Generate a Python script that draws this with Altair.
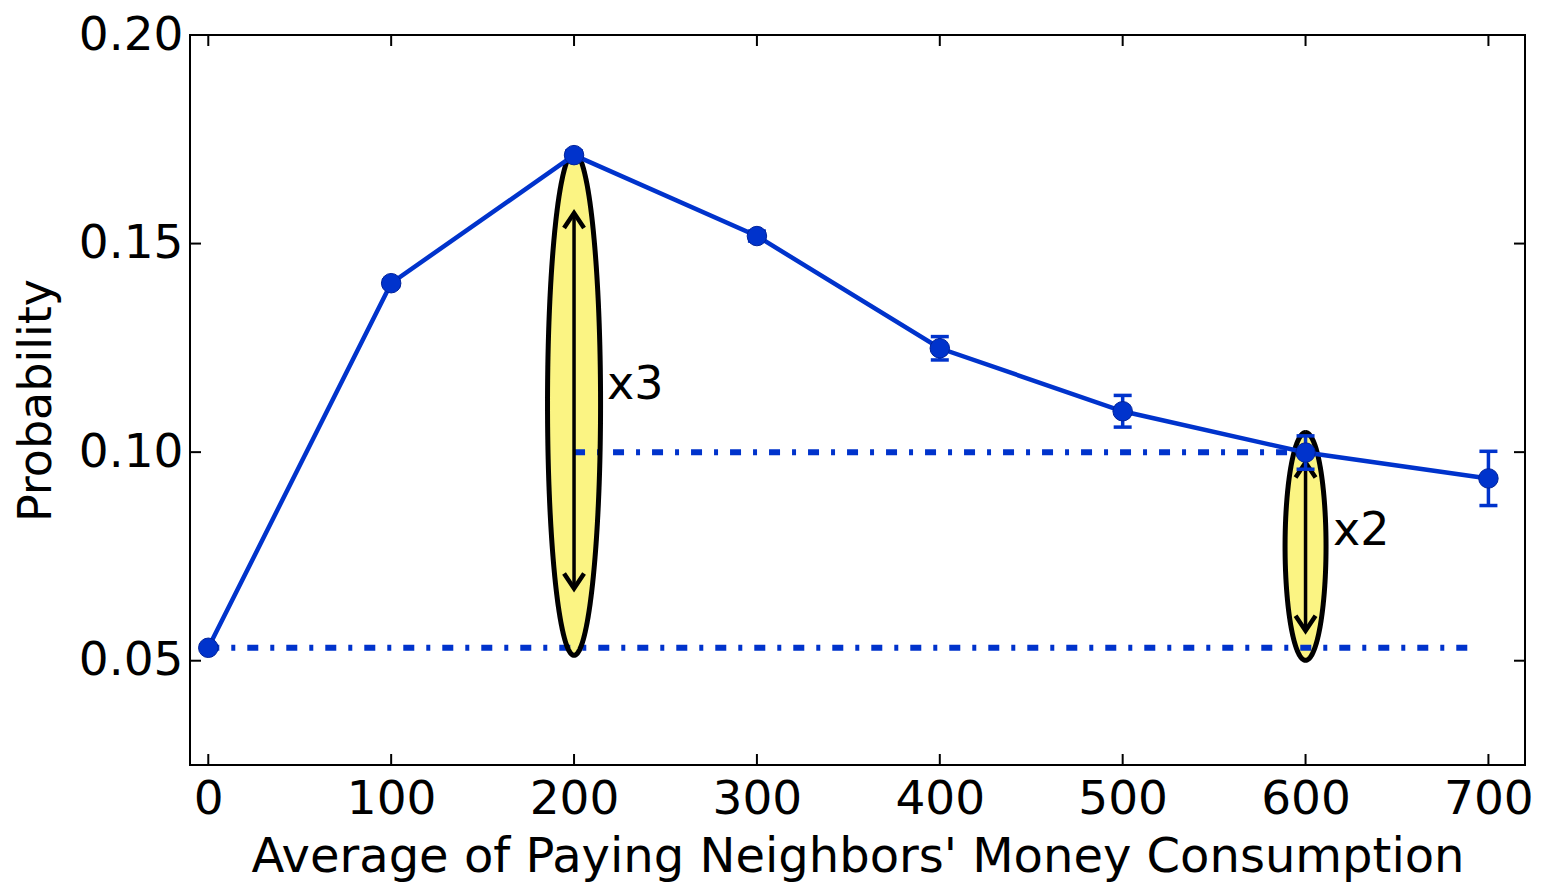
import altair as alt
import numpy as np
import pandas as pd

# ---- data ----
consumption = [0, 100, 200, 300, 400, 500, 600, 700]
probability = [0.0531, 0.1405, 0.1712, 0.1518, 0.1249, 0.1098, 0.0999, 0.0937]
error = [0.0005, 0.0008, 0.0010, 0.0012, 0.0028, 0.0038, 0.0040, 0.0065]

x_ticks = [0, 100, 200, 300, 400, 500, 600, 700]
y_ticks = [0.05, 0.10, 0.15, 0.20]

# reference (dash-dot) lines
ref_id = ["base", "double"]
ref_x1 = [0, 200]
ref_x2 = [695, 600]
ref_y = [0.0531, 0.10]

# highlighted ellipses (centre and half-extent in data units)
ell_id = ["e3", "e2"]
ell_cx = [200, 600]
ell_cy = [0.1116, 0.0774]
ell_rx = [14.5, 11.2]
ell_ry = [0.0603, 0.0273]

# double-headed arrows
arr_x = [200, 600]
arr_top = [0.1573, 0.0975]
arr_bot = [0.0673, 0.0572]

# labels
lab_text = ["x3", "x2"]
lab_x = [218, 615]
lab_y = [0.116, 0.0812]

W, H = 1335, 730
BLUE = "#0033cc"
FONT = "DejaVu Sans"

main = pd.DataFrame({"x": consumption, "p": probability, "e": error})
main["lo"] = main["p"] - main["e"]
main["hi"] = main["p"] + main["e"]

refs = pd.DataFrame({"id": ref_id, "x1": ref_x1, "x2": ref_x2, "y": ref_y})

# ellipse geometry from the centre/extent parameters above
fill_rows, edge_rows = [], []
for i in range(len(ell_id)):
    for k, tt in enumerate(np.linspace(0, np.pi, 241)):
        fill_rows.append({
            "id": ell_id[i],
            "x": ell_cx[i] - ell_rx[i] * np.cos(tt),
            "yt": ell_cy[i] + ell_ry[i] * np.sin(tt),
            "yb": ell_cy[i] - ell_ry[i] * np.sin(tt),
        })
    for k, tt in enumerate(np.linspace(0, 2 * np.pi, 481)):
        edge_rows.append({
            "id": ell_id[i], "k": k,
            "y": ell_cy[i] + ell_ry[i] * np.cos(tt),
            "x": ell_cx[i] + ell_rx[i] * np.sin(tt),
        })
ell_fill = pd.DataFrame(fill_rows)
ell_edge = pd.DataFrame(edge_rows)

arrows = pd.DataFrame({"x": arr_x, "top": arr_top, "bot": arr_bot})
labels = pd.DataFrame({"text": lab_text, "x": lab_x, "y": lab_y})
xt = pd.DataFrame({"v": x_ticks})
yt = pd.DataFrame({"v": y_ticks})

xscale = alt.Scale(domain=[-10, 720], nice=False, zero=False)
yscale = alt.Scale(domain=[0.025, 0.2], nice=False, zero=False)

xaxis = alt.Axis(values=x_ticks, title="Average of Paying Neighbors' Money Consumption",
                 ticks=False, domain=False, grid=False, labelPadding=11,
                 titlePadding=11, format="d")
yaxis = alt.Axis(values=y_ticks, title="Probability", ticks=False, domain=False,
                 grid=False, labelPadding=7, titlePadding=18, titleFontSize=46,
                 format=".2f")


def X(f):
    return alt.X(f, type="quantitative", scale=xscale, axis=xaxis)


def Y(f):
    return alt.Y(f, type="quantitative", scale=yscale, axis=yaxis)


ellipse_fill = alt.Chart(ell_fill).mark_area(color="#fbf483", opacity=1).encode(
    x=X("x"), y=Y("yt"), y2="yb", detail="id:N")
ellipse_edge = alt.Chart(ell_edge).mark_line(color="black", strokeWidth=5).encode(
    y=Y("y"), x=X("x"), detail="id:N", order=alt.Order("k:Q"))

dashes = alt.Chart(refs).mark_rule(color=BLUE, strokeWidth=6,
                                   strokeDash=[11, 12, 4, 12]).encode(
    x=X("x1"), x2="x2", y=Y("y"))

arrow_shaft = alt.Chart(arrows).mark_rule(color="black", strokeWidth=3.5).encode(
    x=X("x"), y=Y("top"), y2="bot")
arrow_up = alt.Chart(arrows).mark_point(shape="M -1 1.5 L 0 0 L 1 1.5", filled=False,
                                        stroke="black", strokeWidth=4.5, size=400,
                                        opacity=1).encode(x=X("x"), y=Y("top"))
arrow_dn = alt.Chart(arrows).mark_point(shape="M -1 -1.5 L 0 0 L 1 -1.5", filled=False,
                                        stroke="black", strokeWidth=4.5, size=400,
                                        opacity=1).encode(x=X("x"), y=Y("bot"))

line = alt.Chart(main).mark_line(color=BLUE, strokeWidth=4.5).encode(x=X("x"), y=Y("p"))
err_rule = alt.Chart(main).mark_rule(color=BLUE, strokeWidth=3.5).encode(
    x=X("x"), y=Y("lo"), y2="hi")
cap_lo = alt.Chart(main).mark_tick(color=BLUE, orient="horizontal", size=18,
                                   thickness=3.5, opacity=1).encode(x=X("x"), y=Y("lo"))
cap_hi = alt.Chart(main).mark_tick(color=BLUE, orient="horizontal", size=18,
                                   thickness=3.5, opacity=1).encode(x=X("x"), y=Y("hi"))
points = alt.Chart(main).mark_circle(color=BLUE, size=380, opacity=1, stroke="#00229a",
                                     strokeWidth=1).encode(x=X("x"), y=Y("p"))

texts = alt.Chart(labels).mark_text(align="left", baseline="middle", fontSize=46,
                                    font=FONT, color="black").encode(
    x=X("x"), y=Y("y"), text="text:N")

tick_b = alt.Chart(xt).mark_rule(color="black", strokeWidth=2).encode(
    x=X("v"), y=alt.value(H), y2=alt.value(H - 11))
tick_t = alt.Chart(xt).mark_rule(color="black", strokeWidth=2).encode(
    x=X("v"), y=alt.value(0), y2=alt.value(11))
tick_l = alt.Chart(yt).mark_rule(color="black", strokeWidth=2).encode(
    y=Y("v"), x=alt.value(0), x2=alt.value(11))
tick_r = alt.Chart(yt).mark_rule(color="black", strokeWidth=2).encode(
    y=Y("v"), x=alt.value(W - 11), x2=alt.value(W))

chart = alt.layer(
    ellipse_fill, dashes, ellipse_edge, arrow_shaft, arrow_up, arrow_dn,
    line, err_rule, cap_lo, cap_hi, points, texts,
    tick_b, tick_t, tick_l, tick_r,
).properties(
    width=W, height=H,
    background="white",
    autosize=alt.AutoSizeParams(type="none"),
    padding={"left": 182, "top": 27, "right": 10, "bottom": 118},
).configure_view(
    stroke="black", strokeWidth=2
).configure_axis(
    labelFont=FONT, titleFont=FONT, labelFontSize=47, titleFontSize=48,
    labelColor="black", titleColor="black", titleFontWeight="normal"
)

chart.save("out.html", embed_options={"renderer": "svg", "actions": False})
